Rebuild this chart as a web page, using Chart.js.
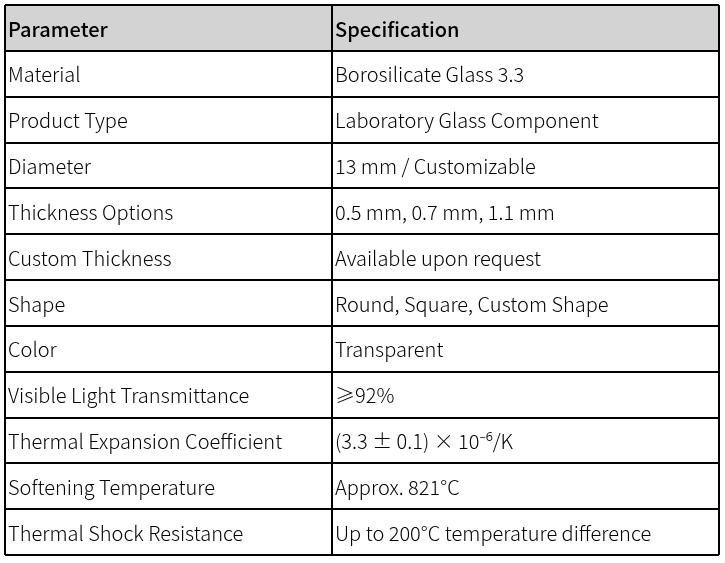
<!DOCTYPE html>
<html>
<head>
<meta charset="utf-8">
<script src="https://cdn.jsdelivr.net/npm/chart.js@4"></script>
<style>
  html, body { margin: 0; padding: 0; background: #ffffff; }
  #wrap { width: 725px; height: 563px; position: relative; }
</style>
</head>
<body>
<div id="wrap"><canvas id="specTable"></canvas></div>
<script>
// Table content
const headers = ["Parameter", "Specification"];
const parameters = [
  "Material",
  "Product Type",
  "Diameter",
  "Thickness Options",
  "Custom Thickness",
  "Shape",
  "Color",
  "Visible Light Transmittance",
  "Thermal Expansion Coefficient",
  "Softening Temperature",
  "Thermal Shock Resistance"
];
const specifications = [
  "Borosilicate Glass 3.3",
  "Laboratory Glass Component",
  "13 mm / Customizable",
  "0.5 mm, 0.7 mm, 1.1 mm",
  "Available upon request",
  "Round, Square, Custom Shape",
  "Transparent",
  "≥92%",
  "(3.3 ± 0.1) × 10⁻⁶/K",
  "Approx. 821°C",
  "Up to 200°C temperature difference"
];
// column edges as % of table width
const colEdges = [0, 45.8, 100];

document.addEventListener("DOMContentLoaded", function () {
  const rowLabels = ["header"].concat(parameters);
  const rows = [headers].concat(parameters.map((p, i) => [p, specifications[i]]));

  // Draw cell texts
  const cellTextPlugin = {
    id: "cellText",
    afterDraw(chart) {
      const ctx = chart.ctx;
      const xScale = chart.scales.x;
      const yScale = chart.scales.y;
      ctx.save();
      ctx.fillStyle = "#000000";
      ctx.textBaseline = "middle";
      ctx.textAlign = "left";
      rows.forEach((row, r) => {
        const y = yScale.getPixelForValue(r);
        ctx.font = (r === 0 ? "500 " : "300 ") + "20px 'Noto Sans CJK SC', 'Noto Sans', sans-serif";
        row.forEach((text, c) => {
          const x = xScale.getPixelForValue(colEdges[c]) + 3;
          ctx.fillText(text, x, y + 1);
        });
      });
      ctx.restore();
    }
  };

  new Chart(document.getElementById("specTable"), {
    type: "bar",
    data: {
      labels: rowLabels,
      datasets: [
        {
          data: rowLabels.map(() => [colEdges[0], colEdges[colEdges.length - 1]]),
          backgroundColor: rowLabels.map((l, i) => (i === 0 ? "#d3d3d3" : "#ffffff")),
          borderWidth: 0,
          barPercentage: 1,
          categoryPercentage: 1
        }
      ]
    },
    options: {
      indexAxis: "y",
      responsive: true,
      maintainAspectRatio: false,
      animation: false,
      layout: {
        padding: { left: 5, right: 6, top: 5, bottom: 8 }
      },
      plugins: {
        legend: { display: false },
        tooltip: { enabled: false }
      },
      scales: {
        x: {
          type: "linear",
          min: 0,
          max: 100,
          afterBuildTicks: (scale) => {
            scale.ticks = colEdges.map((v) => ({ value: v }));
          },
          ticks: { display: false },
          grid: { z: 1, color: "#000000", lineWidth: 2, drawTicks: false },
          border: { display: false }
        },
        y: {
          type: "category",
          offset: true,
          ticks: { display: false },
          grid: { z: 1, offset: true, color: "#000000", lineWidth: 2, drawTicks: false },
          border: { display: false }
        }
      }
    },
    plugins: [cellTextPlugin]
  });
});
</script>
</body>
</html>
